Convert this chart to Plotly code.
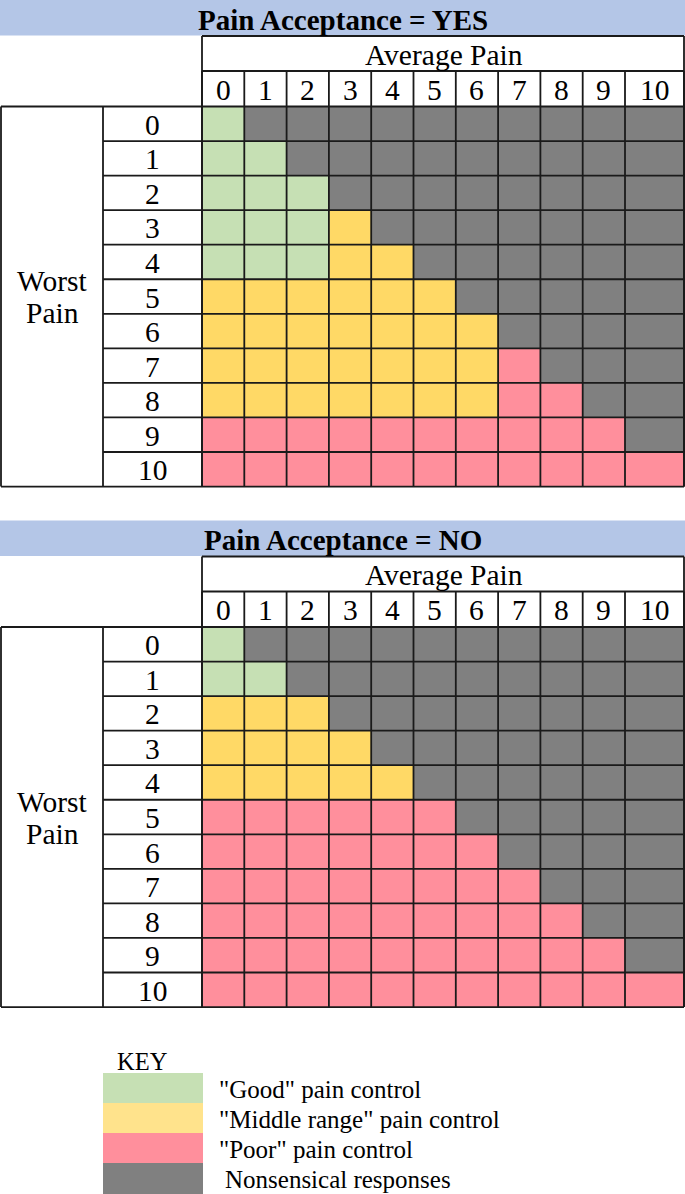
import plotly.graph_objects as go

# ---------------- data ----------------
avg_pain_labels = ["0", "1", "2", "3", "4", "5", "6", "7", "8", "9", "10"]
worst_pain_labels = ["0", "1", "2", "3", "4", "5", "6", "7", "8", "9", "10"]

# category codes: 0 = "Good", 1 = "Middle range", 2 = "Poor", 3 = Nonsensical
# rows = Worst Pain 0..10, columns = Average Pain 0..10
acceptance_yes = [
    [0, 3, 3, 3, 3, 3, 3, 3, 3, 3, 3],
    [0, 0, 3, 3, 3, 3, 3, 3, 3, 3, 3],
    [0, 0, 0, 3, 3, 3, 3, 3, 3, 3, 3],
    [0, 0, 0, 1, 3, 3, 3, 3, 3, 3, 3],
    [0, 0, 0, 1, 1, 3, 3, 3, 3, 3, 3],
    [1, 1, 1, 1, 1, 1, 3, 3, 3, 3, 3],
    [1, 1, 1, 1, 1, 1, 1, 3, 3, 3, 3],
    [1, 1, 1, 1, 1, 1, 1, 2, 3, 3, 3],
    [1, 1, 1, 1, 1, 1, 1, 2, 2, 3, 3],
    [2, 2, 2, 2, 2, 2, 2, 2, 2, 2, 3],
    [2, 2, 2, 2, 2, 2, 2, 2, 2, 2, 2],
]
acceptance_no = [
    [0, 3, 3, 3, 3, 3, 3, 3, 3, 3, 3],
    [0, 0, 3, 3, 3, 3, 3, 3, 3, 3, 3],
    [1, 1, 1, 3, 3, 3, 3, 3, 3, 3, 3],
    [1, 1, 1, 1, 3, 3, 3, 3, 3, 3, 3],
    [1, 1, 1, 1, 1, 3, 3, 3, 3, 3, 3],
    [2, 2, 2, 2, 2, 2, 3, 3, 3, 3, 3],
    [2, 2, 2, 2, 2, 2, 2, 3, 3, 3, 3],
    [2, 2, 2, 2, 2, 2, 2, 2, 3, 3, 3],
    [2, 2, 2, 2, 2, 2, 2, 2, 2, 3, 3],
    [2, 2, 2, 2, 2, 2, 2, 2, 2, 2, 3],
    [2, 2, 2, 2, 2, 2, 2, 2, 2, 2, 2],
]
table_titles = ["Pain Acceptance = YES", "Pain Acceptance = NO"]
row_axis_title = ["Worst", "Pain"]
col_axis_title = "Average Pain"
key_codes = [0, 1, 2, 3]
key_labels = ['"Good" pain control', '"Middle range" pain control',
              '"Poor" pain control', 'Nonsensical responses']

# ---------------- styles / geometry ----------------
W, H = 685, 1194
GRID_COLORS = ["#C6E0B4", "#FFD966", "#FF8F9C", "#808080"]
KEY_COLORS = ["#C6E0B4", "#FFE38C", "#FF8F9C", "#808080"]
BAND = "#B4C6E7"
LINE = "#1a1a1a"
LW = 1.8
FONT = "Liberation Serif"
FS = 29.5            # cell / header text size
FS_TITLE = 29

GX0 = 202.0          # left edge of data grid
CW = 42.3            # column width (cols 0..9)
ROW_H = 34.55
LABEL_X0, LABEL_X1 = 1.0, 103.0
TABLE_OFFSETS = [0.0, 520.5]


def scale(codes):
    n = len(codes)
    return [[i / (n - 1), c] for i, c in enumerate(codes)]


col_edges = [GX0 + CW * k for k in range(len(avg_pain_labels))] + [W]

fig = go.Figure()
shapes = []
annots = []


def hline(x0, x1, y):
    shapes.append(dict(type="line", xref="x", yref="y", x0=x0, x1=x1, y0=y, y1=y,
                       line=dict(color=LINE, width=LW)))


def vline(x, y0, y1):
    shapes.append(dict(type="line", xref="x", yref="y", x0=x, x1=x, y0=y0, y1=y1,
                       line=dict(color=LINE, width=LW)))


def text(x, y, s, size, bold=False, xanchor="center"):
    annots.append(dict(xref="x", yref="y", x=x, y=y, text=("<b>%s</b>" % s) if bold else s,
                       showarrow=False, xanchor=xanchor, yanchor="middle",
                       font=dict(family=FONT, size=size, color="black")))


for title, mat, oy in zip(table_titles, [acceptance_yes, acceptance_no], TABLE_OFFSETS):
    band_top, band_bot = oy + 0.0, oy + 35.5
    avg_top, avg_bot = oy + 36.0, oy + 71.0
    rows_top = oy + 106.5
    row_edges = [rows_top + ROW_H * k for k in range(len(worst_pain_labels) + 1)]
    rows_bot = row_edges[-1]

    # title band
    shapes.append(dict(type="rect", xref="x", yref="y", x0=0, x1=W, y0=band_top, y1=band_bot,
                       fillcolor=BAND, line=dict(width=0), layer="below"))
    text(W / 2, oy + 19.5, title, FS_TITLE, bold=True)

    # cells
    fig.add_trace(go.Heatmap(
        z=mat, x=col_edges, y=row_edges, zmin=0, zmax=3,
        colorscale=scale(GRID_COLORS), showscale=False, hoverinfo="skip"))

    # Average Pain header box
    hline(GX0, W - 1, avg_top)
    hline(GX0, W - 1, avg_bot)
    text((GX0 + W) / 2, (avg_top + avg_bot) / 2 + 1, col_axis_title, FS)

    # column numbers
    for i, lab in enumerate(avg_pain_labels):
        cx = (col_edges[i] + col_edges[i + 1]) / 2
        text(cx, (avg_bot + rows_top) / 2 + 1, lab, FS)

    # grid verticals
    for xe in col_edges:
        vline(min(xe, W - 1), avg_bot, rows_bot)
    vline(GX0, avg_top, rows_bot)
    vline(W - 1, avg_top, rows_bot)
    vline(LABEL_X1, rows_top, rows_bot)
    vline(LABEL_X0, rows_top, rows_bot)

    # grid horizontals
    for ye in row_edges:
        hline(LABEL_X1, W - 1, ye)
    hline(LABEL_X0, LABEL_X1, rows_top)
    hline(LABEL_X0, LABEL_X1, rows_bot)

    # row labels
    for j, lab in enumerate(worst_pain_labels):
        cy = (row_edges[j] + row_edges[j + 1]) / 2 + 1
        text((LABEL_X1 + GX0) / 2, cy, lab, FS)

    mid = (rows_top + rows_bot) / 2
    text((LABEL_X0 + LABEL_X1) / 2, mid - 15.5, row_axis_title[0], FS)
    text((LABEL_X0 + LABEL_X1) / 2, mid + 16.5, row_axis_title[1], FS)

# ---------------- key ----------------
key_x = [103, 203]
key_y = [1073, 1103, 1133, 1163, 1194]
fig.add_trace(go.Heatmap(
    z=[[c] for c in key_codes], x=key_x, y=key_y, zmin=0, zmax=3,
    colorscale=scale(KEY_COLORS), showscale=False, hoverinfo="skip"))
text(115, 1061, "KEY", 24.5, xanchor="left")
for i, lab in enumerate(key_labels):
    cy = (key_y[i] + key_y[i + 1]) / 2 + 1
    lx = 223 if lab.startswith("Nonsensical") else 217
    text(lx, cy, lab, 25, xanchor="left")

fig.update_layout(
    width=W, height=H, margin=dict(l=0, r=0, t=0, b=0),
    paper_bgcolor="white", plot_bgcolor="white",
    shapes=shapes, annotations=annots, showlegend=False,
    xaxis=dict(range=[0, W], visible=False, fixedrange=True),
    yaxis=dict(range=[H, 0], visible=False, fixedrange=True),
)

fig.write_html("out.html")
